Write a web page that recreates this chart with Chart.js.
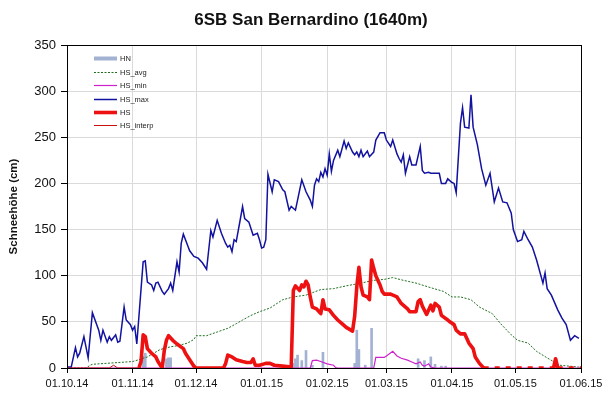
<!DOCTYPE html>
<html>
<head>
<meta charset="utf-8">
<script src="https://cdn.jsdelivr.net/npm/chart.js@4.4.1/dist/chart.umd.min.js"></script>
<style>
  html, body { margin: 0; padding: 0; background: #fff; }
</style>
</head>
<body>
<canvas id="snow" width="616" height="399"></canvas>
<script>
/* --- Data (x = days since 01.10.14) --- */
const chartTitle = '6SB San Bernardino (1640m)';
const monthDays = [0, 31, 61, 92, 123, 151, 182, 212, 243];
const monthLabels = ['01.10.14', '01.11.14', '01.12.14', '01.01.15', '01.02.15',
                     '01.03.15', '01.04.15', '01.05.15', '01.06.15'];

const hnDays = [36, 37, 47, 48, 49, 107, 108, 109, 111, 113, 116, 121,
                136, 137, 138, 141, 144, 166, 169, 172, 174, 177, 179];
const hnVals = [13, 16, 10, 11, 11, 5, 10, 14, 8, 19, 3, 17,
                5, 41, 20, 3, 43, 10, 8, 12, 4, 2, 2];

const avgDays = [0, 9, 11, 12, 31, 34, 38, 41, 44, 49, 52, 57, 60, 61, 66, 71, 76, 80, 83, 87,
                 91, 96, 102, 107, 113, 120, 126, 132, 139, 145, 150, 154, 159, 165, 172, 178,
                 182, 186, 191, 195, 201, 205, 210, 213, 218, 222, 227, 233, 242];
const avgVals = [0, 0, 3, 4, 7, 9, 12, 16, 20, 23, 24, 27, 31, 35, 35, 39, 43, 48, 52, 57,
                 61, 65, 74, 77, 79, 85, 86, 89, 92, 95, 96, 98, 95, 92, 87, 83,
                 77, 77, 74, 66, 59, 48, 36, 30, 27, 18, 11, 3, 1];

const minDays = [0, 115, 116, 118, 120, 123, 126, 127, 128, 145, 146, 150, 151, 154, 156,
                 158, 161, 163, 165, 167, 168, 169, 171, 172, 174, 243];
const minVals = [0, 0, 8, 8.5, 7, 4.5, 3, 0.5, 0, 0, 11.5, 11.5, 13, 18, 13,
                 10.5, 8.5, 6.5, 4.5, 6.5, 3, 2, 4.5, 1, 0, 0];

const maxDays = [0, 2, 4, 5, 6, 8, 10, 12, 15, 16, 17, 19, 20, 21, 23, 24, 25, 27, 28, 30,
                 31, 32, 33, 36, 37, 38, 40, 41, 42, 43, 45, 46, 48, 49, 50, 52, 53, 54, 55, 57,
                 58, 60, 62, 64, 66, 68, 69, 71, 73, 75, 76, 77, 78, 79, 80, 82, 83, 84, 86, 87,
                 88, 90, 91, 92, 93, 94, 95, 97, 98, 100, 102, 103, 105, 106, 108, 109, 111, 113, 115, 116,
                 117, 118, 119, 120, 121, 122, 123, 124, 125, 126, 128, 129, 131, 132, 133, 135, 136, 137, 138, 139,
                 140, 142, 143, 145, 146, 148, 150, 151, 153, 154, 156, 157, 158, 159, 160, 162, 163, 165, 167, 168,
                 169, 171, 172, 176, 177, 179, 180, 182, 183, 184, 186, 187, 188, 190, 191, 192, 194, 196, 198, 200,
                 202, 204, 206, 208, 210, 211, 213, 215, 216, 218, 220, 222, 225, 226, 227, 229, 232, 234, 236, 238,
                 240, 242];
const maxVals = [1, 1, 22, 12, 16, 34, 11, 60, 41, 30, 41, 28, 34, 30, 36, 28, 29, 66, 52, 47,
                 41, 45, 26, 115, 116, 93, 90, 84, 92, 93, 83, 80, 86, 92, 84, 115, 104, 135, 145, 133,
                 127, 121, 119, 114, 107, 149, 142, 160, 146, 135, 131, 133, 126, 139, 137, 162, 175, 162, 158, 151,
                 144, 146, 139, 130, 131, 139, 210, 191, 204, 202, 193, 191, 171, 175, 171, 182, 204, 191, 182, 175,
                 198, 205, 202, 212, 207, 216, 209, 232, 213, 225, 236, 229, 246, 238, 244, 234, 231, 234, 229, 236,
                 229, 235, 229, 234, 247, 255, 255, 247, 240, 247, 232, 227, 223, 231, 211, 229, 220, 220, 240, 214,
                 211, 212, 211, 211, 200, 200, 205, 201, 200, 190, 265, 282, 261, 260, 296, 261, 242, 216, 198, 211,
                 180, 195, 180, 179, 168, 150, 137, 139, 148, 139, 131, 117, 92, 103, 86, 79, 63, 54, 47, 30,
                 35, 32];

const hsDays = [34, 35, 36, 37, 38, 40, 42, 43, 45, 46, 47, 48, 50, 52, 55, 56, 58, 60, 61, 74,
                75, 76, 78, 80, 83, 85, 87, 88, 89, 91, 94, 96, 98, 102, 106, 107, 108, 110, 111, 112,
                113, 114, 115, 116, 118, 120, 121, 122, 124, 126, 128, 130, 132, 135, 136, 137, 138, 139, 140, 142,
                143, 144, 145, 146, 148, 149, 150, 153, 156, 158, 161, 162, 165, 166, 167, 168, 170, 172, 173, 174,
                176, 177, 180, 181, 183, 184, 186, 188, 190, 192, 193, 195, 197, 205, 215, 230, 231, 232, 243];
const hsVals = [0, 7, 36, 34, 21, 16, 12, 7, 0, 19, 30, 35, 30, 26, 21, 16, 9, 2, 0, 0,
                5, 14, 12, 9, 7, 6, 6, 10, 3, 3, 5, 5, 3, 2, 1, 84, 89, 84, 90, 88,
                94, 90, 77, 66, 64, 59, 74, 64, 63, 57, 52, 48, 44, 40, 56, 88, 109, 88, 79, 77,
                74, 117, 108, 100, 90, 83, 80, 80, 77, 70, 64, 61, 61, 72, 74, 67, 58, 68, 62, 70,
                66, 57, 52, 50, 47, 41, 37, 37, 27, 21, 12, 5, 0, 0, 0, 0, 10, 0, 0];

const interpDays = [0, 20, 22, 24, 34];
const interpVals = [0, 0, 3, 0, 0];

const FONT = "'Liberation Sans', Arial, sans-serif";

function pts(days, vals) {
  return days.map((d, i) => ({ x: d, y: vals[i] }));
}

/* --- Title, frame and legend inside the plot --- */
const frameLegend = {
  id: 'frameLegend',
  afterDraw(chart) {
    const { ctx, chartArea: a } = chart;
    ctx.save();

    // title sits slightly right of the canvas centre, like the original
    ctx.font = 'bold 17px ' + FONT;
    ctx.fillStyle = '#111';
    ctx.textAlign = 'center';
    ctx.textBaseline = 'middle';
    ctx.fillText(chartTitle, 311, 20);

    ctx.strokeStyle = '#000';
    ctx.lineWidth = 1;
    ctx.strokeRect(a.left + 0.5, a.top + 0.5, a.right - a.left, a.bottom - a.top);

    ctx.font = '7.5px ' + FONT;
    ctx.textAlign = 'left';
    ctx.fillStyle = '#222';
    chart.data.datasets.forEach((ds, i) => {
      const y = Math.round(a.top + 13.3 + i * 13.4) + 0.5;
      ctx.beginPath();
      ctx.strokeStyle = ds.type === 'bar' ? ds.backgroundColor : ds.borderColor;
      ctx.lineWidth = ds.legendWidth || ds.borderWidth;
      ctx.setLineDash(ds.borderDash || []);
      ctx.moveTo(a.left + 27, y);
      ctx.lineTo(a.left + 50, y);
      ctx.stroke();
      ctx.setLineDash([]);
      ctx.fillText(ds.label, a.left + 53, y);
    });
    ctx.restore();
  }
};

const ctx = document.getElementById('snow');

new Chart(ctx, {
  type: 'line',
  data: {
    datasets: [
      { type: 'bar', label: 'HN', data: pts(hnDays, hnVals), backgroundColor: '#a3b2d2',
        barThickness: 2, legendWidth: 4, order: 5 },
      { label: 'HS_avg', data: pts(avgDays, avgVals), borderColor: '#1f6e1f', borderWidth: 1,
        borderDash: [2, 1.5], order: 4 },
      { label: 'HS_min', data: pts(minDays, minVals), borderColor: '#cc22cc', borderWidth: 1.2, order: 3 },
      { label: 'HS_max', data: pts(maxDays, maxVals), borderColor: '#1212a0', borderWidth: 1.5, order: 2 },
      { label: 'HS', data: pts(hsDays, hsVals), borderColor: '#ee1111', borderWidth: 3.6, order: 0,
        borderJoinStyle: 'round',
        segment: {
          borderDash: c => (c.p0.parsed.x >= 197 && c.p0.parsed.y === 0 && c.p1.parsed.y === 0) ? [5, 6] : undefined
        } },
      { label: 'HS_interp', data: pts(interpDays, interpVals), borderColor: '#cc1010', borderWidth: 1, order: 1 }
    ]
  },
  options: {
    responsive: false,
    animation: false,
    elements: { point: { radius: 0 }, line: { tension: 0 } },
    layout: { padding: { left: 0, right: 35, top: 45, bottom: 0 } },
    plugins: {
      legend: { display: false },
      tooltip: { enabled: false },
      title: { display: false }
    },
    scales: {
      x: {
        type: 'linear',
        min: 0,
        max: 243,
        offset: false,
        afterBuildTicks: s => { s.ticks = monthDays.map(v => ({ value: v })); },
        afterFit: s => { s.height = 31; },
        ticks: {
          autoSkip: false, maxRotation: 0, padding: 4, color: '#111',
          font: { family: FONT, size: 11 },
          callback: v => monthLabels[monthDays.indexOf(v)]
        },
        grid: { offset: false, color: '#dadada', tickColor: '#000', tickLength: 5 },
        border: { color: '#000' }
      },
      y: {
        min: 0,
        max: 350,
        afterFit: s => { s.width = 67; },
        ticks: { stepSize: 50, padding: 5, color: '#111', font: { family: FONT, size: 13 } },
        grid: { color: '#dadada', tickColor: '#000', tickLength: 6 },
        border: { color: '#000' },
        title: {
          display: true,
          text: 'Schneehöhe (cm)',
          color: '#111',
          font: { family: FONT, size: 11.5, weight: 'bold' },
          padding: { top: 7, bottom: 0 }
        }
      }
    }
  },
  plugins: [frameLegend]
});
</script>
</body>
</html>
